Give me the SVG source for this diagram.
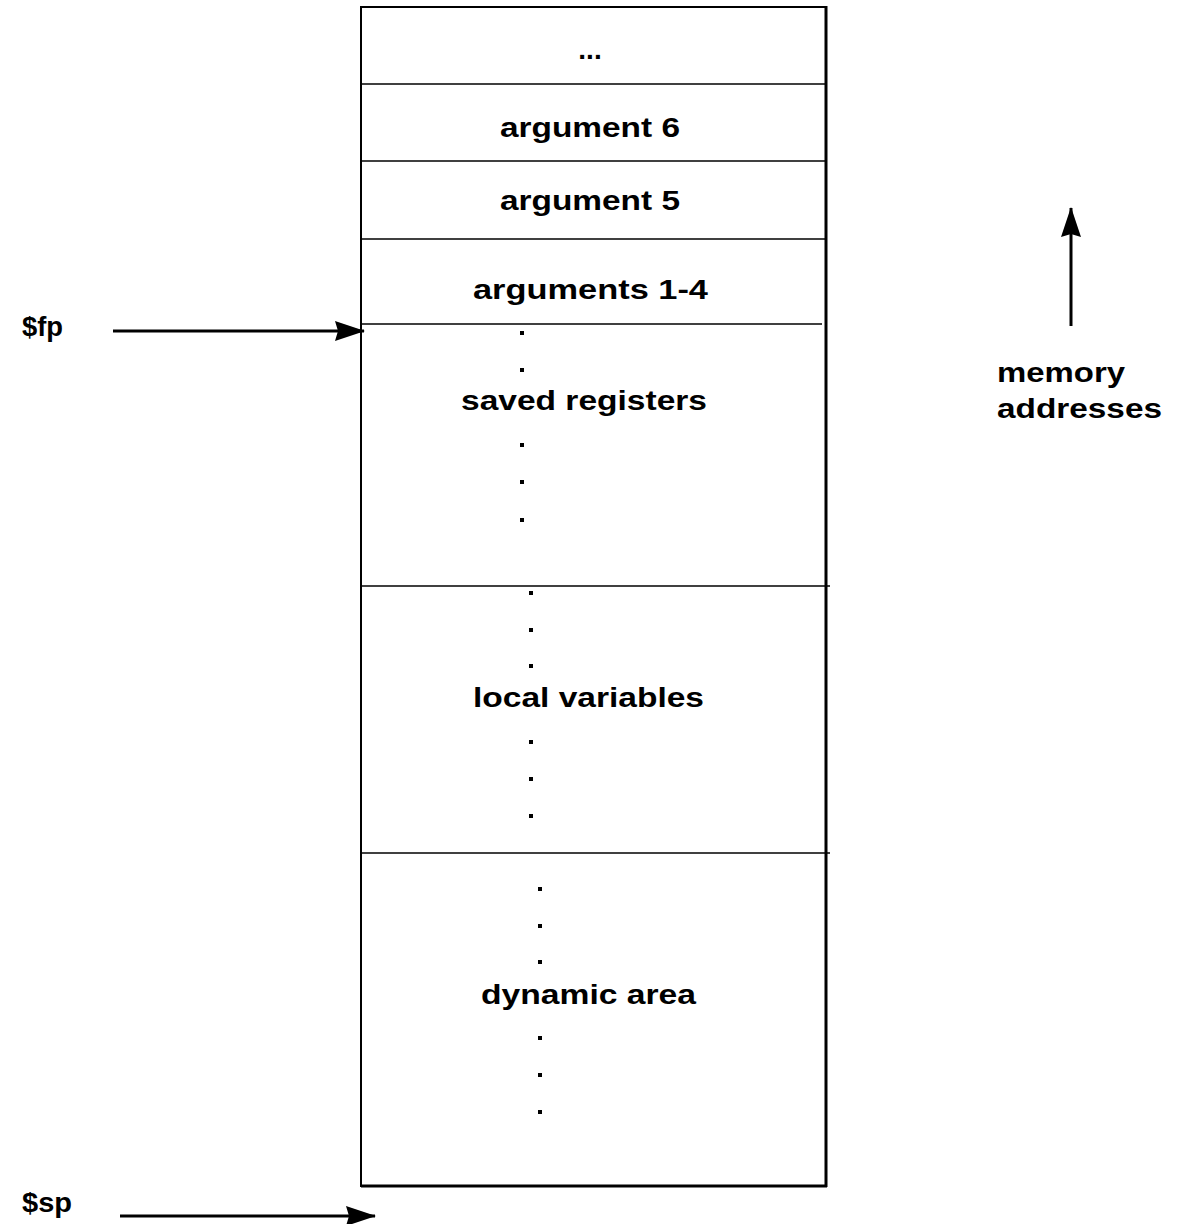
<svg xmlns="http://www.w3.org/2000/svg" width="1182" height="1224" viewBox="0 0 1182 1224">
<style>
.t{font-family:"Liberation Sans",Arial,sans-serif;font-weight:bold;font-size:28px;fill:#000}
.d{fill:#000}
.ln{stroke:#000;stroke-width:1.5;fill:none}
.ar{stroke:#000;stroke-width:3;fill:none}
</style>
<defs>
<marker id="ah2" viewBox="0 0 30 20" markerWidth="30" markerHeight="20" refX="29" refY="10" orient="auto" markerUnits="userSpaceOnUse">
<path d="M0,0 L30,10 L0,20 L3,10 Z" fill="#000"/>
</marker>
</defs>
<rect width="1182" height="1224" fill="#fff"/>
<g id="stack">
<path d="M361,7 L826,7 L826,1186 L361,1186 Z" fill="#fff" stroke="#000" stroke-width="2"/>
<line x1="826" y1="6" x2="826" y2="1187" stroke="#000" stroke-width="3"/>
<line x1="361" y1="1186" x2="827" y2="1186" stroke="#000" stroke-width="3"/>
</g>
<g id="cell-dots">
<line class="ln" x1="361" y1="84" x2="826" y2="84"/>
<text class="t" x="590" y="59" text-anchor="middle">...</text>
</g>
<g id="cell-arg6">
<line class="ln" x1="361" y1="161" x2="826" y2="161"/>
<text class="t" x="500" y="137" textLength="180" lengthAdjust="spacingAndGlyphs">argument 6</text>
</g>
<g id="cell-arg5">
<line class="ln" x1="361" y1="239" x2="826" y2="239"/>
<text class="t" x="500" y="210" textLength="180" lengthAdjust="spacingAndGlyphs">argument 5</text>
</g>
<g id="cell-args14">
<line class="ln" x1="361" y1="324" x2="822" y2="324"/>
<text class="t" x="473" y="299" textLength="235" lengthAdjust="spacingAndGlyphs">arguments 1-4</text>
</g>
<g id="cell-saved">
<line class="ln" x1="361" y1="586" x2="830" y2="586"/>
<text class="t" x="461" y="410" textLength="246" lengthAdjust="spacingAndGlyphs">saved registers</text>
<rect class="d" x="520" y="331" width="4" height="4"/>
<rect class="d" x="520" y="368" width="4" height="4"/>
<rect class="d" x="520" y="443" width="4" height="4"/>
<rect class="d" x="520" y="480" width="4" height="4"/>
<rect class="d" x="520" y="518" width="4" height="4"/>
</g>
<g id="cell-locals">
<line class="ln" x1="361" y1="853" x2="830" y2="853"/>
<text class="t" x="473" y="707" textLength="231" lengthAdjust="spacingAndGlyphs">local variables</text>
<rect class="d" x="529" y="591" width="4" height="4"/>
<rect class="d" x="529" y="628" width="4" height="4"/>
<rect class="d" x="529" y="664" width="4" height="4"/>
<rect class="d" x="529" y="740" width="4" height="4"/>
<rect class="d" x="529" y="777" width="4" height="4"/>
<rect class="d" x="529" y="814" width="4" height="4"/>
</g>
<g id="cell-dynamic">
<text class="t" x="481" y="1004" textLength="215" lengthAdjust="spacingAndGlyphs">dynamic area</text>
<rect class="d" x="538" y="887" width="4" height="4"/>
<rect class="d" x="538" y="924" width="4" height="4"/>
<rect class="d" x="538" y="960" width="4" height="4"/>
<rect class="d" x="538" y="1036" width="4" height="4"/>
<rect class="d" x="538" y="1073" width="4" height="4"/>
<rect class="d" x="538" y="1110" width="4" height="4"/>
</g>
<g id="label-fp">
<text class="t" x="22" y="336" textLength="41" lengthAdjust="spacingAndGlyphs">$fp</text>
</g>
<g id="label-sp">
<text class="t" x="22" y="1212" textLength="50" lengthAdjust="spacingAndGlyphs">$sp</text>
</g>
<g id="label-mem">
<text class="t" x="997" y="382" textLength="128" lengthAdjust="spacingAndGlyphs">memory</text>
<text class="t" x="997" y="418" textLength="165" lengthAdjust="spacingAndGlyphs">addresses</text>
</g>
<g id="connectors">
<line class="ar" x1="113" y1="331" x2="364" y2="331" marker-end="url(#ah2)"/>
<line class="ar" x1="120" y1="1216" x2="375" y2="1216" marker-end="url(#ah2)"/>
<line class="ar" x1="1071" y1="326" x2="1071" y2="208" marker-end="url(#ah2)"/>
</g>
</svg>
